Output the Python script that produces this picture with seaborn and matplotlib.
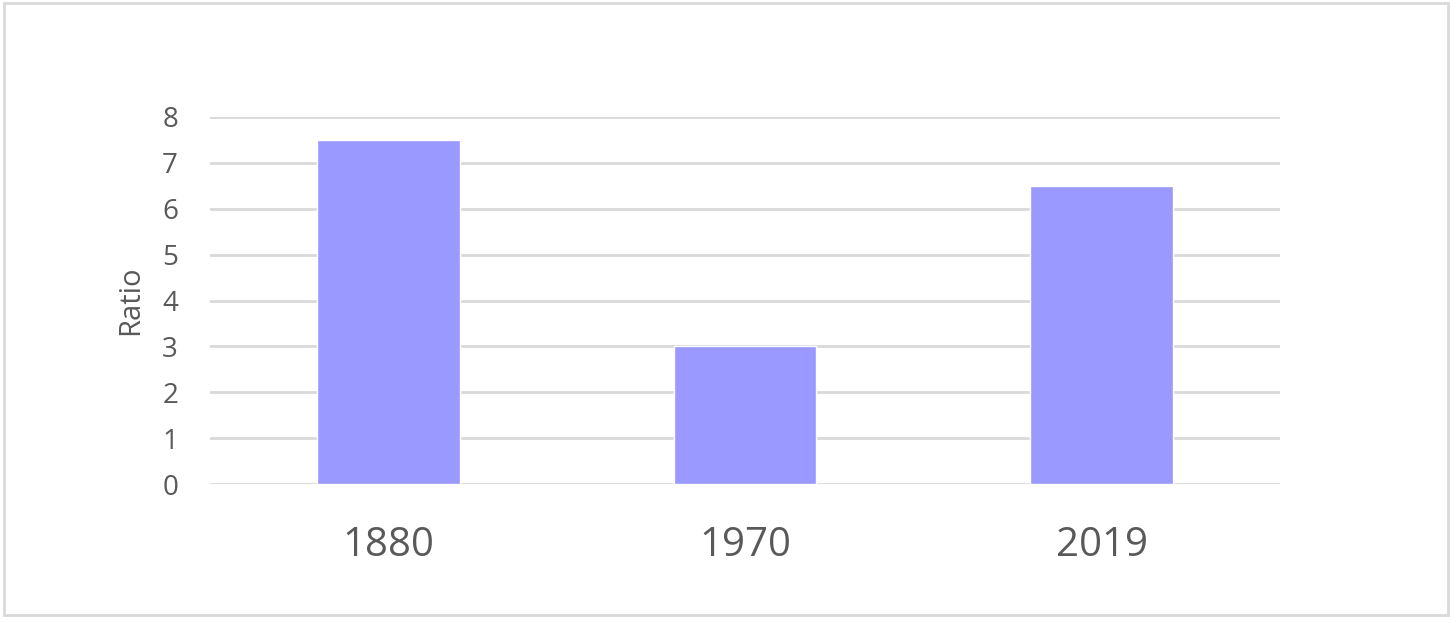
import numpy as np
import pandas as pd
import seaborn as sns
import matplotlib.pyplot as plt
from matplotlib.patches import Rectangle

# data
years = ['1880', '1970', '2019']
ratios = [7.5, 3.0, 6.5]

df = pd.DataFrame({'Year': years, 'Ratio': ratios})

sns.set_style("white")
plt.rcParams['font.family'] = ['Open Sans', 'DejaVu Sans']

fig = plt.figure(figsize=(14.56, 6.23), dpi=100)
ax = fig.add_axes([0.1442, 0.2231, 0.7349, 0.5891])

sns.barplot(ax=ax, data=df, x='Year', y='Ratio', color='#9999ff', width=0.4, saturation=1)

ax.set_ylim(0, 8)
ax.set_xlim(-0.5, 2.5)
ax.set_yticks(range(0, 9))
ax.yaxis.grid(True, color='#d9d9d9', linewidth=2)
ax.set_axisbelow(True)
for s in ax.spines.values():
    s.set_visible(False)

ax.tick_params(axis='y', labelsize=20, labelcolor='#595959', length=0, pad=23)
ax.tick_params(axis='x', labelsize=29, labelcolor='#595959', length=0, pad=30)
ax.set_xlabel('')
ax.set_ylabel('Ratio', fontsize=21, color='#595959', labelpad=12)

# outer frame
fig.patches.append(Rectangle((4 / 1456, 8 / 623), 1444 / 1456, 612 / 623,
                             transform=fig.transFigure, fill=False,
                             edgecolor='#d9d9d9', linewidth=2))

fig.savefig('out.png', dpi=100)
